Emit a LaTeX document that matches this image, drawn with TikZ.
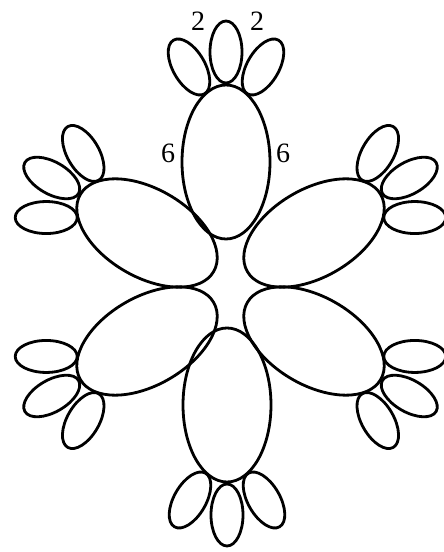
\documentclass[tikz,border=0pt]{standalone}
\usepackage{fontspec}
\setmainfont{Liberation Serif}
\begin{document}
\begin{tikzpicture}[x=1pt,y=1pt,line width=2.8pt,big/.style={x radius=77pt,y radius=44pt},lobe/.style={x radius=31pt,y radius=16pt},lbl/.style={font=\fontsize{28}{28}\selectfont,inner sep=0pt}]
\useasboundingbox (0,0) rectangle (444,552);
\foreach \cx/\cy/\a in {226/390/90,227/147/270,147/319/150,314/319/30,147/211/210,314/211/330}{
\begin{scope}[shift={(\cx,\cy)},rotate=\a]
\draw (0,0) ellipse[big];
\draw (110,0) ellipse[lobe];
\draw[rotate around={30:(95,37)}] (95,37) ellipse[lobe];
\draw[rotate around={-30:(95,-37)}] (95,-37) ellipse[lobe];
\end{scope}}
\node[lbl](twoleft) at (198,531){2};\node[lbl](tworight) at (257,531){2};
\node[lbl](sixleft) at (168,399){6};\node[lbl](sixright) at (283,399){6};
\end{tikzpicture}
\end{document}
